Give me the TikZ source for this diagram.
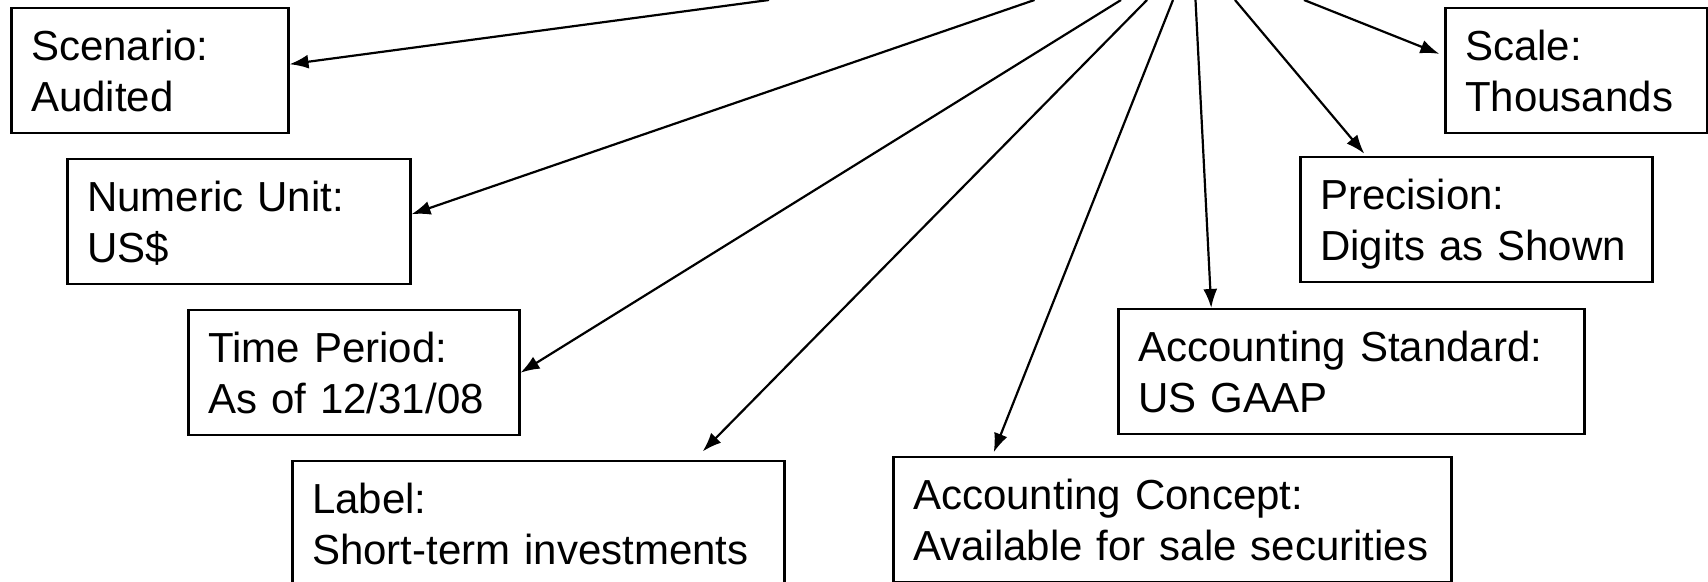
\documentclass[tikz,border=0pt]{standalone}
\usepackage{fontspec}
\setmainfont{Liberation Sans}
\usetikzlibrary{arrows.meta}
\hyphenpenalty=10000

\begin{document}
\begin{tikzpicture}[x=0.5pt, y=0.5pt, >={Latex[length=9.5pt,width=7pt]}]
\tikzstyle{attr}=[draw=black, line width=1.25pt, anchor=north west, align=left, inner xsep=10pt, inner ysep=0pt, text height=26pt, text depth=36.5pt, font=\fontsize{21pt}{25.5pt}\selectfont]
\tikzstyle{link}=[->, line width=1.1pt]

\useasboundingbox (0,0) rectangle (1708,-582);

% Left column
\node at (10, -7) [attr, text width=118.5pt] (scenario) {Scenario:\\Audited};
\node at (66, -158) [attr, text width=151.5pt] (numeric) {Numeric Unit:\\US\$};
\node at (187, -309) [attr, text width=145.5pt] (time) {Time Period:\\As of 12/31/08};
\node at (291, -460) [attr, text width=226pt] (label) {Label:\\Short-term investments};

% Right column
\node at (892, -456) [attr, text width=259pt] (concept) {Accounting Concept:\\Available for sale securities};
\node at (1117, -308) [attr, text width=213pt] (standard) {Accounting Standard:\\US GAAP};
\node at (1299, -156) [attr, text width=156pt] (precision) {Precision:\\Digits as Shown};
\node at (1444, -7) [attr, text width=111pt] (scale) {Scale:\\Thousands};

% Lines coming in from the top edge
\foreach \x/\n in {769/1, 1034.5/2, 1121/3, 1147/4, 1173/5, 1195.5/6, 1235/7, 1304/8}
\coordinate (top_\n) at (\x, 0);

\draw [link] (top_1) to ([yshift=3.25pt]scenario.east);
\draw [link] (top_2) to ([yshift=3.75pt]numeric.east);
\draw [link] (top_3) to (time.east);
\draw [link, shorten >=6pt] (top_4) to ([xshift=78pt]label.north);
\draw [link, shorten >=2pt] (top_5) to ([xshift=-90pt]concept.north);
\draw [link] (top_6) to ([xshift=-70pt]standard.north);
\draw [link, shorten >=1.5pt] (top_7) to ([xshift=-55pt]precision.north);
\draw [link, shorten >=2.5pt] (top_8) to ([yshift=7.5pt]scale.west);
\end{tikzpicture}
\end{document}
